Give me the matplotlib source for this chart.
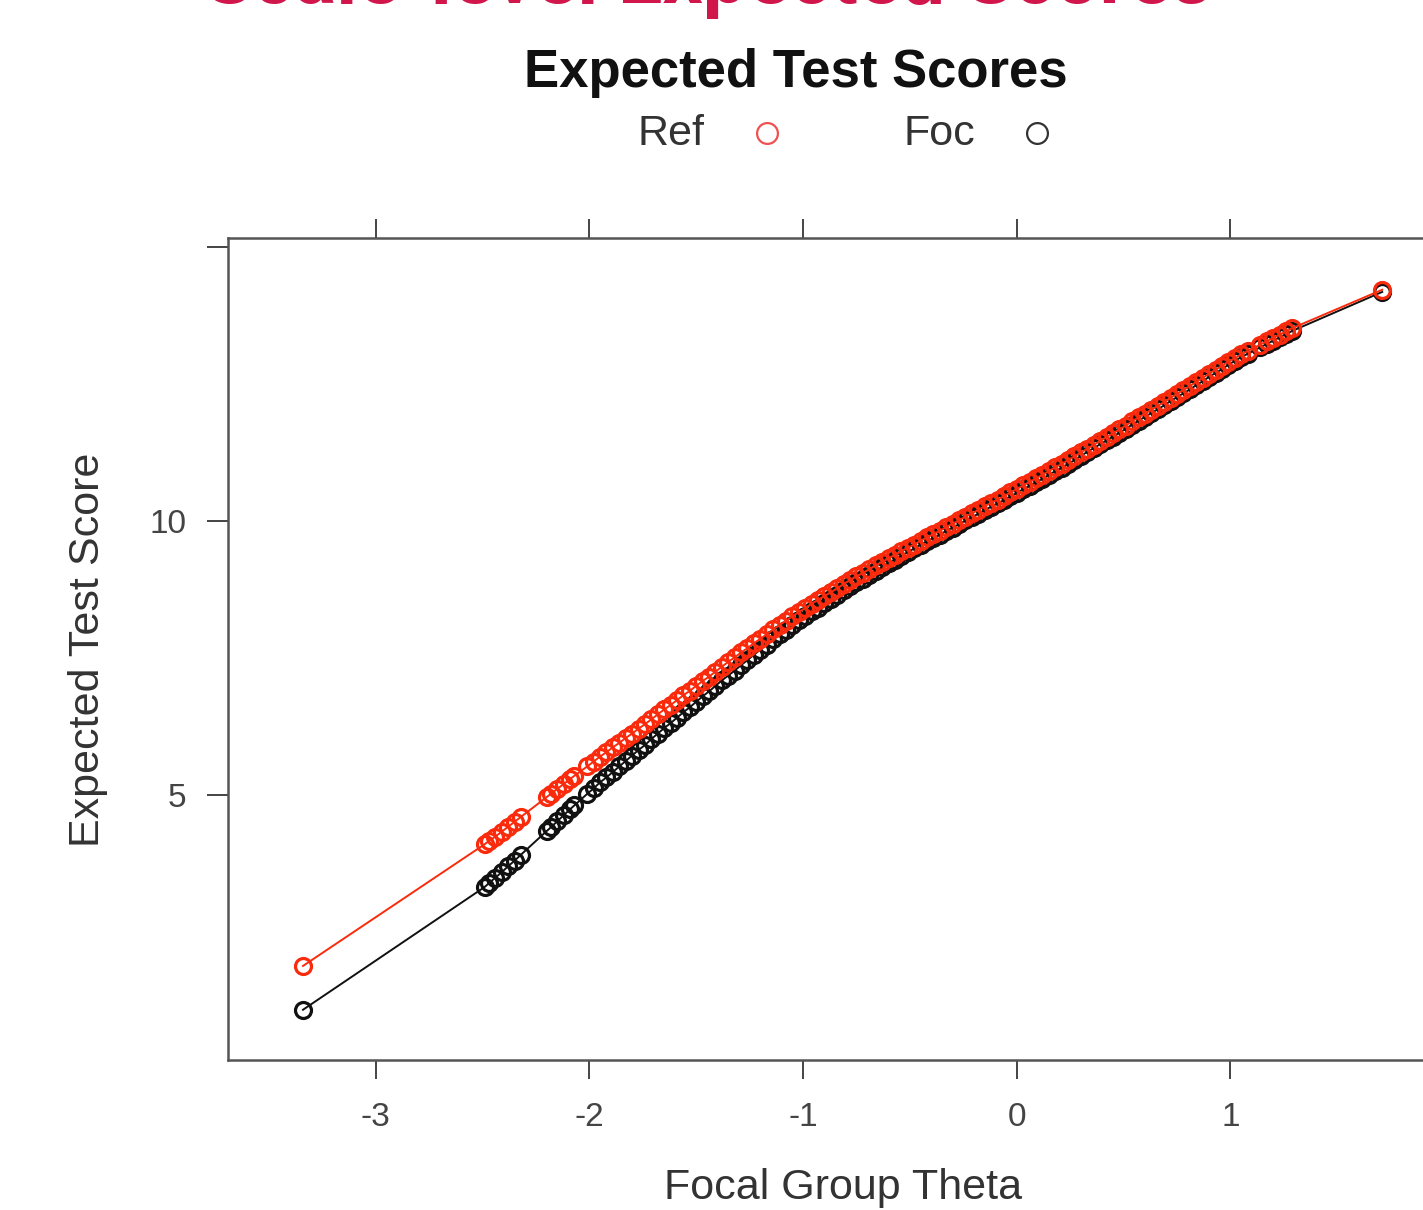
import matplotlib
matplotlib.use('Agg')
import matplotlib.pyplot as plt
from matplotlib.lines import Line2D

plt.rcParams['font.family'] = ['Liberation Sans', 'DejaVu Sans']

# focal group theta (x) and expected test scores under each group's parameters
theta = [
    -3.34,
    -2.49, -2.47, -2.44, -2.41, -2.38, -2.35, -2.32,
    -2.20, -2.18, -2.15, -2.12, -2.09, -2.07,
    -2.01, -1.98, -1.95, -1.92, -1.89, -1.86, -1.83, -1.80, -1.77, -1.74,
    -1.71, -1.68, -1.65, -1.62, -1.59, -1.56, -1.53, -1.50, -1.47, -1.44,
    -1.41, -1.38, -1.35, -1.32, -1.29, -1.26, -1.23, -1.20, -1.17, -1.14,
    -1.11, -1.08, -1.05, -1.02, -0.99, -0.96, -0.93, -0.90, -0.87, -0.84,
    -0.81, -0.78, -0.75, -0.72, -0.69, -0.66, -0.63, -0.60, -0.57, -0.54,
    -0.51, -0.48, -0.45, -0.42, -0.39, -0.36, -0.33, -0.30, -0.27, -0.24,
    -0.21, -0.18, -0.15, -0.12, -0.09, -0.06, -0.03, 0.00, 0.03, 0.06,
    0.09, 0.12, 0.15, 0.18, 0.21, 0.24, 0.27, 0.30, 0.33, 0.36,
    0.39, 0.42, 0.45, 0.48, 0.51, 0.54, 0.57, 0.60, 0.63, 0.66,
    0.69, 0.72, 0.75, 0.78, 0.81, 0.84, 0.87, 0.90, 0.93, 0.96,
    0.99, 1.02, 1.05, 1.08, 1.14, 1.17, 1.20, 1.23, 1.26, 1.29,
    1.71,
]

ref_score = [
    1.88,
    4.10, 4.16, 4.24, 4.33, 4.42, 4.51, 4.60,
    4.96, 5.02, 5.11, 5.20, 5.29, 5.35,
    5.52, 5.61, 5.70, 5.78, 5.87, 5.95, 6.04, 6.12, 6.21, 6.29,
    6.38, 6.47, 6.56, 6.64, 6.73, 6.82, 6.90, 6.99, 7.08, 7.16,
    7.25, 7.34, 7.43, 7.51, 7.60, 7.68, 7.77, 7.85, 7.93, 8.02,
    8.10, 8.18, 8.26, 8.34, 8.41, 8.49, 8.56, 8.63, 8.70, 8.77,
    8.85, 8.92, 8.99, 9.05, 9.12, 9.19, 9.25, 9.32, 9.38, 9.45,
    9.51, 9.57, 9.64, 9.70, 9.76, 9.82, 9.89, 9.95, 10.01, 10.08,
    10.14, 10.20, 10.27, 10.33, 10.39, 10.45, 10.52, 10.58, 10.65, 10.71,
    10.78, 10.84, 10.91, 10.98, 11.04, 11.11, 11.18, 11.25, 11.32, 11.39,
    11.46, 11.53, 11.60, 11.67, 11.74, 11.82, 11.89, 11.96, 12.03, 12.10,
    12.17, 12.25, 12.32, 12.39, 12.46, 12.54, 12.61, 12.69, 12.76, 12.83,
    12.91, 12.97, 13.04, 13.10, 13.22, 13.28, 13.34, 13.40, 13.46, 13.52,
    14.22,
]

foc_score = [
    1.08,
    3.32, 3.39, 3.49, 3.59, 3.70, 3.80, 3.91,
    4.34, 4.41, 4.52, 4.63, 4.74, 4.81,
    5.02, 5.12, 5.23, 5.32, 5.42, 5.52, 5.62, 5.72, 5.82, 5.91,
    6.02, 6.12, 6.22, 6.31, 6.41, 6.51, 6.60, 6.70, 6.80, 6.89,
    6.99, 7.09, 7.18, 7.27, 7.37, 7.46, 7.56, 7.65, 7.74, 7.84,
    7.93, 8.01, 8.10, 8.19, 8.26, 8.35, 8.42, 8.50, 8.58, 8.65,
    8.74, 8.81, 8.88, 8.95, 9.02, 9.09, 9.16, 9.23, 9.29, 9.37,
    9.43, 9.50, 9.57, 9.63, 9.69, 9.75, 9.82, 9.88, 9.94, 10.01,
    10.07, 10.13, 10.20, 10.26, 10.32, 10.38, 10.45, 10.51, 10.58, 10.64,
    10.71, 10.77, 10.84, 10.91, 10.97, 11.04, 11.11, 11.19, 11.26, 11.33,
    11.40, 11.47, 11.54, 11.61, 11.68, 11.76, 11.83, 11.90, 11.97, 12.04,
    12.11, 12.19, 12.26, 12.33, 12.40, 12.48, 12.55, 12.63, 12.70, 12.77,
    12.85, 12.92, 12.99, 13.05, 13.17, 13.23, 13.29, 13.35, 13.41, 13.47,
    14.18,
]

series_names = ['Ref', 'Foc']
series_colors = ['#fa2a0c', '#111111']
x_ticks = [-3, -2, -1, 0, 1]
y_ticks = [5, 10, 15]
y_tick_labels = ['5', '10', '']

fig = plt.figure(figsize=(14.23, 12.10), dpi=100)
# plot region runs off the right edge, like the cropped original
ax = fig.add_axes([0.1602, 0.1240, 0.8637, 0.6793])

# foc first so the ref markers sit on top
for scores, col in [(foc_score, series_colors[1]), (ref_score, series_colors[0])]:
    ax.plot(theta, scores, color=col, lw=1.4, marker='o', ms=11.5,
            mfc='none', mec=col, mew=2.3)

ax.set_xlim(-3.691, 2.06)
ax.set_ylim(0.164, 15.164)

for side in ['left', 'top', 'bottom', 'right']:
    ax.spines[side].set_color('#555555')
    ax.spines[side].set_linewidth(1.8)

ax.set_xticks(x_ticks)
ax.set_xticklabels([str(v) for v in x_ticks])
ax.set_yticks(y_ticks)
ax.set_yticklabels(y_tick_labels)
ax.tick_params(axis='x', top=True, labeltop=False, direction='out', length=14,
               width=1.4, color='#444444', labelsize=24, labelcolor='#444444', pad=16)
ax.tick_params(axis='y', right=False, direction='out', length=15,
               width=1.4, color='#444444', labelsize=24, labelcolor='#444444', pad=15)

fig.text(843 / 1423, 1 - 1188 / 1210, 'Focal Group Theta', ha='center', va='center',
         fontsize=31, color='#333333')
fig.text(88 / 1423, 1 - 650 / 1210, 'Expected Test Score', ha='center', va='center',
         rotation=90, fontsize=31, color='#333333')

fig.text(796 / 1423, 1 - 73 / 1210, 'Expected Test Scores', ha='center', va='center',
         fontsize=38, fontweight='bold', color='#111111')

# key
fig.text(671 / 1423, 1 - 134 / 1210, series_names[0], ha='center', va='center',
         fontsize=31, color='#333333')
fig.text(939 / 1423, 1 - 134 / 1210, series_names[1], ha='center', va='center',
         fontsize=31, color='#333333')
for kx, col in [(767, '#f05050'), (1037, '#333333')]:
    fig.add_artist(Line2D([kx / 1423], [1 - 133 / 1210], transform=fig.transFigure,
                          marker='o', ms=15, mfc='none', mec=col, mew=1.6))

# slide heading, cut off at the top of the picture as in the original
fig.text(708 / 1423, 1 - 3 / 1210, 'Scale-level Expected Scores', ha='center', va='baseline',
         fontsize=57, fontweight='bold', color='#d0164b', family=['Roboto', 'DejaVu Sans'])

fig.savefig('out.png', dpi=100)
